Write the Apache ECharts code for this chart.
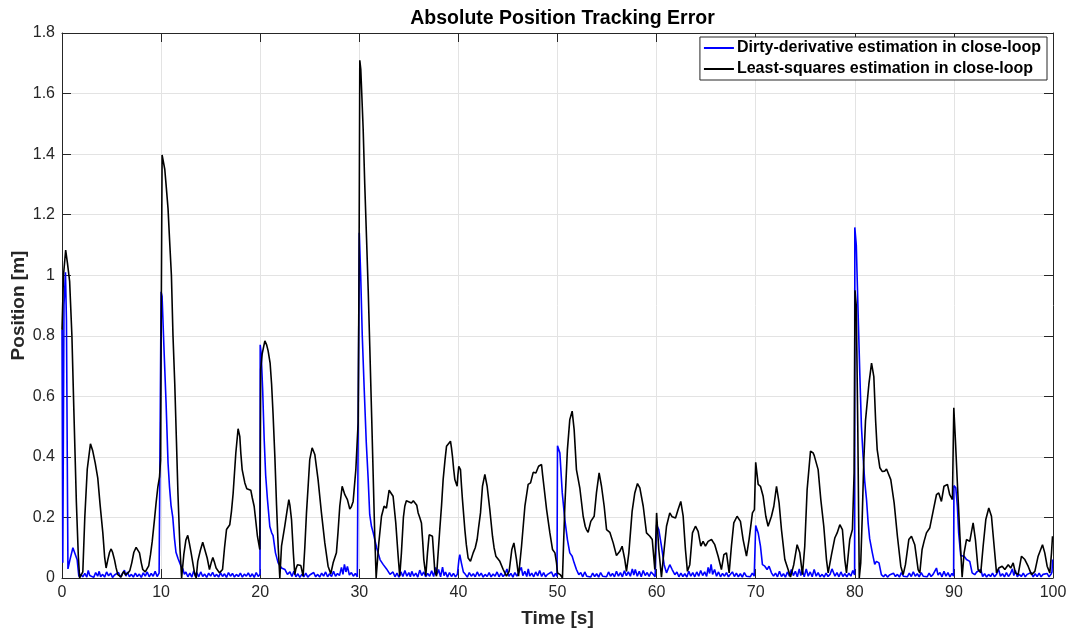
<!DOCTYPE html>
<html>
<head>
<meta charset="utf-8">
<title>Absolute Position Tracking Error</title>
<script src="https://cdn.jsdelivr.net/npm/echarts@6/dist/echarts.min.js"></script>
<style>
  html, body { margin: 0; padding: 0; background: #fff; }
  #chart { width: 1073px; height: 634px; }
</style>
</head>
<body>
<div id="chart"></div>
<script>
// Tracking error |e(t)| in metres, sampled as [time (s), error (m)] pairs.
const dirtyDerivative = [
  [0,0.82],[0.08,0.05],[0.2,0.9],[0.35,1.01],[0.45,0.85],[0.6,0.03],[0.8,0.06],[1.1,0.1],[1.26,0.105],[1.53,0.06],[1.7,0.005],[1.9,0.012],[2.1,0.004],[2.3,0.015],[2.5,0.003],[2.65,0.025],[2.8,0.008],[3.0,0.014],[3.2,0.002],[3.4,0.018],[3.6,0.006],[3.75,0.022],[3.9,0.004],[4.1,0.012],[4.3,0.003],[4.5,0.02],[4.7,0.007],[4.9,0.016],[5.1,0.002],[5.3,0.01],[5.5,0.004],[5.7,0.018],[5.9,0.003],[6.1,0.014],[6.3,0.026],[6.45,0.006],[6.6,0.02],[6.8,0.004],[7.0,0.012],[7.2,0.003],[7.4,0.016],[7.6,0.005],[7.8,0.013],[8.0,0.002],[8.2,0.017],[8.4,0.006],[8.6,0.02],[8.8,0.004],[9.0,0.015],[9.2,0.006],[9.4,0.022],[9.6,0.005],[9.8,0.016],[9.98,0.01],
  [10.0,0.945],[10.1,0.93],[10.3,0.75],[10.5,0.58],[10.7,0.38],[10.85,0.3],[11.0,0.24],[11.18,0.2],[11.35,0.13],[11.5,0.085],[11.7,0.065],[11.85,0.06],[12.0,0.04],[12.2,0.03],[12.35,0.012],[12.5,0.02],[12.7,0.004],[12.9,0.016],[13.1,0.003],[13.3,0.024],[13.45,0.006],[13.6,0.018],[13.8,0.004],[14.0,0.02],[14.2,0.005],[14.4,0.013],[14.6,0.002],[14.8,0.016],[15.0,0.006],[15.2,0.019],[15.4,0.004],[15.6,0.012],[15.8,0.003],[16.0,0.017],[16.2,0.005],[16.4,0.014],[16.6,0.002],[16.8,0.018],[17.0,0.006],[17.2,0.015],[17.4,0.003],[17.6,0.012],[17.8,0.005],[18.0,0.016],[18.2,0.003],[18.4,0.013],[18.6,0.006],[18.8,0.017],[19.0,0.004],[19.2,0.014],[19.4,0.002],[19.6,0.018],[19.8,0.005],[19.98,0.012],
  [20.0,0.77],[20.1,0.74],[20.25,0.62],[20.4,0.46],[20.55,0.34],[20.73,0.26],[20.97,0.17],[21.15,0.15],[21.3,0.14],[21.54,0.083],[21.81,0.05],[22.15,0.033],[22.5,0.028],[22.75,0.012],[23.0,0.02],[23.2,0.005],[23.4,0.022],[23.6,0.004],[23.8,0.014],[24.0,0.002],[24.2,0.012],[24.4,0.004],[24.6,0.016],[24.8,0.003],[25.0,0.01],[25.2,0.005],[25.4,0.018],[25.6,0.004],[25.8,0.012],[26.0,0.003],[26.2,0.016],[26.4,0.006],[26.6,0.02],[26.8,0.004],[27.0,0.014],[27.2,0.005],[27.4,0.022],[27.6,0.006],[27.8,0.015],[28.0,0.008],[28.2,0.035],[28.35,0.012],[28.5,0.045],[28.65,0.02],[28.8,0.038],[29.0,0.01],[29.2,0.018],[29.4,0.006],[29.6,0.015],[29.8,0.004],[29.98,0.01],
  [30.0,1.14],[30.14,1.0],[30.3,0.8],[30.5,0.62],[30.7,0.45],[30.89,0.33],[31.05,0.21],[31.23,0.17],[31.4,0.15],[31.56,0.127],[31.75,0.1],[31.9,0.083],[32.1,0.06],[32.24,0.055],[32.4,0.045],[32.57,0.04],[32.75,0.03],[32.91,0.035],[33.1,0.012],[33.25,0.008],[33.4,0.02],[33.6,0.004],[33.8,0.016],[34.0,0.003],[34.2,0.02],[34.4,0.005],[34.6,0.025],[34.8,0.006],[35.0,0.018],[35.15,0.004],[35.3,0.022],[35.5,0.006],[35.7,0.016],[35.9,0.003],[36.1,0.026],[36.3,0.008],[36.5,0.02],[36.7,0.004],[36.9,0.015],[37.1,0.006],[37.3,0.024],[37.5,0.005],[37.7,0.035],[37.85,0.012],[38.0,0.028],[38.2,0.004],[38.4,0.036],[38.55,0.008],[38.7,0.02],[38.9,0.003],[39.1,0.018],[39.3,0.005],[39.5,0.015],[39.7,0.004],[39.9,0.012],
  [40.0,0.01],[40.05,0.06],[40.14,0.077],[40.3,0.05],[40.5,0.02],[40.7,0.012],[40.9,0.003],[41.1,0.018],[41.3,0.006],[41.5,0.014],[41.7,0.004],[41.9,0.02],[42.1,0.006],[42.3,0.016],[42.5,0.003],[42.7,0.012],[42.9,0.005],[43.1,0.018],[43.3,0.004],[43.5,0.013],[43.7,0.006],[43.9,0.02],[44.1,0.004],[44.3,0.016],[44.5,0.005],[44.7,0.012],[44.9,0.03],[45.1,0.006],[45.3,0.015],[45.5,0.003],[45.7,0.018],[45.9,0.006],[46.1,0.012],[46.35,0.035],[46.5,0.008],[46.7,0.022],[46.9,0.005],[47.05,0.03],[47.2,0.006],[47.4,0.016],[47.6,0.004],[47.8,0.02],[48.0,0.007],[48.2,0.025],[48.4,0.005],[48.6,0.018],[48.8,0.004],[49.0,0.012],[49.2,0.006],[49.4,0.02],[49.6,0.004],[49.8,0.015],[49.95,0.005],
  [50.0,0.437],[50.24,0.413],[50.48,0.281],[50.74,0.193],[51.0,0.127],[51.24,0.083],[51.48,0.072],[51.68,0.05],[51.91,0.028],[52.15,0.011],[52.35,0.018],[52.55,0.004],[52.75,0.02],[52.95,0.006],[53.15,0.012],[53.35,0.003],[53.55,0.016],[53.75,0.005],[53.95,0.014],[54.15,0.003],[54.35,0.018],[54.55,0.006],[54.75,0.012],[54.95,0.004],[55.15,0.02],[55.35,0.006],[55.55,0.015],[55.75,0.004],[55.95,0.022],[56.15,0.006],[56.35,0.018],[56.55,0.004],[56.75,0.024],[56.95,0.008],[57.15,0.02],[57.35,0.006],[57.55,0.03],[57.7,0.01],[57.85,0.028],[58.05,0.006],[58.25,0.022],[58.45,0.004],[58.65,0.025],[58.85,0.008],[59.05,0.018],[59.25,0.005],[59.45,0.02],[59.65,0.012],[59.85,0.004],[59.98,0.008],
  [60.0,0.176],[60.22,0.16],[60.49,0.105],[60.76,0.044],[61.0,0.017],[61.33,0.044],[61.57,0.028],[61.84,0.011],[62.05,0.02],[62.25,0.004],[62.45,0.016],[62.65,0.005],[62.85,0.014],[63.05,0.003],[63.25,0.022],[63.45,0.006],[63.65,0.018],[63.85,0.004],[64.05,0.02],[64.25,0.006],[64.45,0.025],[64.65,0.008],[64.85,0.02],[65.05,0.005],[65.2,0.035],[65.35,0.015],[65.5,0.045],[65.65,0.012],[65.85,0.028],[66.05,0.006],[66.25,0.02],[66.45,0.004],[66.65,0.015],[66.85,0.006],[67.05,0.018],[67.25,0.004],[67.45,0.012],[67.65,0.02],[67.85,0.005],[68.05,0.016],[68.25,0.004],[68.45,0.014],[68.65,0.003],[68.85,0.018],[69.05,0.006],[69.25,0.012],[69.45,0.004],[69.65,0.016],[69.85,0.006],[69.98,0.01],
  [70.0,0.173],[70.25,0.149],[70.48,0.105],[70.68,0.044],[70.92,0.039],[71.15,0.028],[71.35,0.039],[71.59,0.017],[71.8,0.006],[72.0,0.016],[72.2,0.004],[72.4,0.022],[72.6,0.005],[72.8,0.014],[73.0,0.003],[73.2,0.02],[73.4,0.006],[73.6,0.028],[73.8,0.008],[74.0,0.022],[74.2,0.004],[74.4,0.03],[74.55,0.008],[74.7,0.025],[74.9,0.004],[75.1,0.03],[75.3,0.006],[75.5,0.02],[75.7,0.004],[75.9,0.028],[76.1,0.006],[76.3,0.018],[76.5,0.004],[76.7,0.012],[76.9,0.003],[77.1,0.016],[77.3,0.005],[77.5,0.012],[77.7,0.03],[77.85,0.025],[78.0,0.006],[78.2,0.018],[78.4,0.004],[78.6,0.02],[78.8,0.005],[79.0,0.014],[79.2,0.004],[79.4,0.016],[79.6,0.006],[79.8,0.025],[79.98,0.01],
  [80.0,1.158],[80.15,1.1],[80.33,0.88],[80.5,0.68],[80.67,0.5],[80.84,0.4],[81.0,0.32],[81.18,0.26],[81.35,0.18],[81.5,0.13],[81.77,0.083],[82.01,0.045],[82.18,0.055],[82.44,0.05],[82.68,0.011],[82.9,0.004],[83.1,0.012],[83.3,0.003],[83.5,0.01],[83.7,0.004],[83.9,0.016],[84.1,0.005],[84.3,0.012],[84.5,0.003],[84.7,0.018],[84.9,0.006],[85.1,0.012],[85.3,0.004],[85.5,0.016],[85.7,0.005],[85.9,0.02],[86.1,0.006],[86.3,0.014],[86.5,0.004],[86.7,0.018],[86.9,0.006],[87.1,0.012],[87.3,0.004],[87.5,0.016],[87.7,0.005],[87.9,0.012],[88.1,0.006],[88.24,0.033],[88.4,0.01],[88.6,0.018],[88.8,0.004],[89.0,0.022],[89.2,0.006],[89.4,0.018],[89.6,0.004],[89.8,0.015],[89.97,0.006],
  [90.0,0.305],[90.19,0.298],[90.35,0.237],[90.48,0.149],[90.69,0.074],[91.03,0.072],[91.27,0.061],[91.6,0.055],[91.84,0.017],[92.1,0.011],[92.3,0.02],[92.44,0.022],[92.71,0.028],[92.9,0.005],[93.1,0.014],[93.3,0.003],[93.5,0.012],[93.7,0.005],[93.9,0.016],[94.1,0.004],[94.3,0.012],[94.5,0.03],[94.7,0.006],[94.9,0.014],[95.1,0.004],[95.3,0.018],[95.5,0.005],[95.7,0.014],[95.9,0.03],[96.05,0.008],[96.2,0.025],[96.4,0.004],[96.6,0.012],[96.8,0.005],[97.0,0.016],[97.2,0.004],[97.4,0.012],[97.6,0.006],[97.8,0.018],[98.0,0.004],[98.2,0.014],[98.4,0.005],[98.6,0.016],[98.8,0.004],[99.0,0.012],[99.2,0.006],[99.4,0.015],[99.6,0.004],[99.8,0.012],[99.9,0.02],[99.95,0.061],[100,0.061]
];

const leastSquares = [
  [0,0.82],[0.15,1.0],[0.37,1.083],[0.55,1.04],[0.77,0.98],[1.0,0.80],[1.2,0.55],[1.45,0.25],[1.65,0.07],[1.78,0],
  [2.1,0.02],[2.3,0.2],[2.55,0.36],[2.87,0.443],[3.1,0.42],[3.35,0.38],[3.61,0.33],[3.85,0.24],[4.12,0.149],[4.3,0.07],[4.45,0.033],[4.62,0.06],[4.8,0.085],[4.96,0.096],[5.1,0.085],[5.3,0.06],[5.45,0.035],[5.63,0.011],[5.97,0.003],[6.1,0.015],[6.24,0.022],[6.4,0.01],[6.64,0.016],[6.85,0.025],[7.04,0.05],[7.25,0.085],[7.48,0.101],[7.65,0.095],[7.82,0.083],[8.0,0.05],[8.15,0.028],[8.4,0.02],[8.59,0.019],[8.75,0.04],[8.93,0.077],[9.1,0.12],[9.33,0.193],[9.5,0.25],[9.67,0.30],[9.84,0.334],[9.95,0.39],
  [10.02,0.9],[10.1,1.397],[10.2,1.38],[10.37,1.35],[10.5,1.3],[10.7,1.22],[10.85,1.12],[11.04,1.0],[11.2,0.8],[11.38,0.64],[11.55,0.45],[11.7,0.28],[11.9,0.1],[12.07,0],[12.3,0.08],[12.5,0.125],[12.69,0.141],[12.85,0.115],[13.03,0.083],[13.2,0.088],[13.37,0.017],[13.54,0.0],[13.7,0.055],[13.95,0.09],[14.2,0.118],[14.4,0.095],[14.65,0.066],[14.88,0.028],[15.05,0.05],[15.22,0.068],[15.4,0.05],[15.55,0.033],[15.89,0.017],[16.2,0.028],[16.4,0.1],[16.6,0.16],[16.93,0.176],[17.1,0.22],[17.27,0.28],[17.54,0.413],[17.77,0.493],[17.94,0.468],[18.05,0.41],[18.18,0.358],[18.45,0.314],[18.65,0.295],[18.78,0.292],[19.05,0.29],[19.2,0.265],[19.39,0.237],[19.55,0.19],[19.72,0.138],[19.96,0.094],
  [20.0,0.3],[20.05,0.69],[20.2,0.74],[20.47,0.783],[20.65,0.77],[20.8,0.75],[21.0,0.71],[21.15,0.64],[21.3,0.54],[21.48,0.40],[21.65,0.24],[21.82,0.1],[21.98,0],[22.15,0.105],[22.48,0.171],[22.7,0.22],[22.89,0.259],[23.0,0.24],[23.16,0.193],[23.35,0.08],[23.49,0.011],[23.6,0.03],[23.76,0.044],[23.95,0.045],[24.1,0.041],[24.33,0.006],[24.5,0.1],[24.67,0.215],[24.85,0.31],[25.0,0.391],[25.24,0.43],[25.51,0.408],[25.84,0.325],[26.18,0.215],[26.52,0.116],[26.85,0.039],[27.12,0.014],[27.36,0.05],[27.69,0.083],[27.85,0.15],[28.03,0.237],[28.27,0.303],[28.54,0.275],[28.8,0.259],[29.04,0.228],[29.2,0.235],[29.38,0.253],[29.65,0.358],[29.88,0.512],[29.97,1.0],
  [30.05,1.71],[30.15,1.68],[30.39,1.483],[30.55,1.3],[30.73,1.122],[30.9,0.95],[31.06,0.761],[31.25,0.53],[31.4,0.34],[31.55,0.15],[31.7,0],[31.97,0.116],[32.24,0.204],[32.5,0.237],[32.74,0.231],[33.01,0.29],[33.15,0.285],[33.41,0.27],[33.68,0.182],[33.92,0.072],[34.08,0.006],[34.25,0.083],[34.45,0.2],[34.59,0.237],[34.75,0.255],[34.93,0.261],[35.26,0.248],[35.45,0.255],[35.6,0.257],[35.8,0.24],[35.94,0.215],[36.1,0.2],[36.27,0.182],[36.4,0.12],[36.51,0.061],[36.71,0.008],[36.88,0.083],[37.05,0.143],[37.2,0.145],[37.38,0.138],[37.5,0.08],[37.62,0.022],[37.79,0.006],[37.95,0.08],[38.12,0.16],[38.3,0.24],[38.46,0.325],[38.65,0.39],[38.8,0.435],[39.0,0.44],[39.2,0.452],[39.3,0.43],[39.4,0.402],[39.52,0.36],[39.64,0.325],[39.87,0.303],[39.95,0.34],
  [40.04,0.369],[40.21,0.358],[40.3,0.31],[40.41,0.259],[40.65,0.16],[40.8,0.11],[40.98,0.066],[41.22,0.055],[41.49,0.083],[41.7,0.1],[41.89,0.127],[42.05,0.17],[42.23,0.215],[42.43,0.303],[42.67,0.342],[42.9,0.303],[43.17,0.226],[43.44,0.138],[43.6,0.1],[43.78,0.072],[44.18,0.055],[44.52,0.028],[44.85,0.006],[45.12,0.022],[45.39,0.094],[45.6,0.116],[45.86,0.061],[46.07,0.006],[46.37,0.105],[46.71,0.237],[47.04,0.309],[47.28,0.314],[47.4,0.33],[47.55,0.349],[47.7,0.345],[47.82,0.347],[48.09,0.369],[48.39,0.375],[48.5,0.34],[48.63,0.303],[48.9,0.226],[49.23,0.149],[49.5,0.094],[49.74,0.083],[49.9,0.05],
  [50.0,0.017],[50.3,0.01],[50.5,0.0],[50.6,0.1],[50.74,0.237],[51.0,0.424],[51.24,0.523],[51.48,0.551],[51.68,0.49],[51.91,0.358],[52.25,0.298],[52.59,0.204],[52.8,0.17],[52.92,0.16],[53.09,0.151],[53.36,0.187],[53.7,0.204],[53.93,0.281],[54.2,0.347],[54.44,0.303],[54.71,0.237],[54.95,0.16],[55.28,0.151],[55.62,0.116],[55.95,0.074],[56.29,0.088],[56.52,0.105],[56.79,0.061],[56.96,0.022],[57.2,0.083],[57.53,0.22],[57.8,0.281],[58.07,0.312],[58.31,0.298],[58.65,0.237],[58.98,0.149],[59.32,0.138],[59.56,0.127],[59.82,0.028],
  [60.0,0.215],[60.22,0.094],[60.49,0.003],[60.76,0.094],[61.0,0.171],[61.33,0.215],[61.57,0.202],[61.91,0.198],[62.17,0.226],[62.44,0.253],[62.68,0.204],[62.91,0.094],[63.11,0.022],[63.35,0.044],[63.62,0.149],[63.92,0.171],[64.19,0.154],[64.46,0.105],[64.69,0.121],[64.93,0.105],[65.2,0.121],[65.54,0.127],[65.87,0.11],[66.21,0.072],[66.54,0.028],[66.79,0.077],[67.05,0.083],[67.32,0.017],[67.55,0.105],[67.79,0.182],[68.12,0.204],[68.46,0.187],[68.73,0.127],[69.07,0.072],[69.33,0.127],[69.67,0.215],[69.87,0.226],
  [70.0,0.382],[70.25,0.309],[70.48,0.303],[70.75,0.27],[71.02,0.204],[71.25,0.171],[71.59,0.204],[71.83,0.237],[72.1,0.303],[72.36,0.248],[72.6,0.16],[72.94,0.061],[73.27,0.028],[73.51,0.003],[73.84,0.044],[74.18,0.11],[74.45,0.083],[74.72,0.011],[74.95,0.105],[75.19,0.292],[75.53,0.419],[75.79,0.413],[75.9,0.405],[76.06,0.402],[76.3,0.358],[76.57,0.259],[76.87,0.171],[77.14,0.061],[77.31,0.017],[77.65,0.077],[77.98,0.132],[78.22,0.149],[78.49,0.176],[78.75,0.16],[78.99,0.061],[79.16,0.017],[79.49,0.127],[79.76,0.16],[79.93,0.347],
  [80.02,0.95],[80.15,0.9],[80.3,0.5],[80.45,0.0],[80.6,0.05],[80.75,0.2],[80.9,0.38],[81.08,0.52],[81.42,0.64],[81.69,0.71],[81.92,0.665],[82.1,0.52],[82.26,0.424],[82.53,0.364],[82.76,0.352],[83.03,0.353],[83.2,0.36],[83.37,0.364],[83.63,0.325],[83.97,0.248],[84.3,0.138],[84.64,0.039],[84.88,0.011],[85.11,0.044],[85.45,0.127],[85.72,0.138],[86.05,0.11],[86.39,0.028],[86.56,0.017],[86.79,0.094],[86.99,0.121],[87.23,0.149],[87.56,0.165],[87.9,0.22],[88.24,0.275],[88.47,0.281],[88.74,0.253],[89.0,0.303],[89.35,0.309],[89.58,0.275],[89.85,0.259],
  [89.99,0.562],[90.15,0.457],[90.35,0.314],[90.59,0.149],[90.83,0.003],[91.03,0.083],[91.27,0.127],[91.6,0.121],[91.94,0.182],[92.17,0.127],[92.44,0.028],[92.71,0.017],[92.95,0.105],[93.22,0.193],[93.52,0.231],[93.79,0.204],[94.06,0.105],[94.3,0.017],[94.53,0.033],[94.87,0.039],[95.14,0.028],[95.48,0.044],[95.74,0.033],[95.98,0.05],[96.21,0.017],[96.48,0.011],[96.82,0.072],[97.16,0.061],[97.49,0.039],[97.83,0.011],[98.17,0.022],[98.5,0.072],[98.94,0.11],[99.17,0.083],[99.41,0.039],[99.68,0.017],[99.85,0.083],[99.95,0.138],[100,0.138]
];

const seriesNames = [
  'Dirty-derivative estimation in close-loop',
  'Least-squares estimation in close-loop'
];

const FONT = '"Liberation Sans", Arial, Helvetica, sans-serif';
const AXIS_COLOR = '#262626';
const GRID_COLOR = '#e3e3e3';

// Plot box in pixels
const PLOT = { left: 62, right: 20, top: 33, bottom: 56 };
const PLOT_CENTER_X = PLOT.left + (1073 - PLOT.left - PLOT.right) / 2;

const chart = echarts.init(document.getElementById('chart'), null, { renderer: 'canvas' });

// Shared tick/box styling: ticks point inward on all four sides, like a boxed plot.
function frameAxis(extra) {
  return Object.assign({
    axisLine: { show: true, onZero: false, lineStyle: { color: AXIS_COLOR, width: 1 } },
    axisTick: { show: true, inside: true, length: 9, lineStyle: { color: AXIS_COLOR, width: 1 } },
    splitLine: { show: false },
    axisLabel: { show: false }
  }, extra);
}

const option = {
  animation: false,
  backgroundColor: '#ffffff',
  textStyle: { fontFamily: FONT },
  title: {
    text: 'Absolute Position Tracking Error',
    left: PLOT_CENTER_X,
    textAlign: 'center',
    top: 4,
    textStyle: { fontFamily: FONT, fontSize: 19.5, fontWeight: 'bold', color: '#000' }
  },
  legend: {
    data: seriesNames,
    orient: 'vertical',
    right: 26,
    top: 37,
    icon: 'rect',
    itemWidth: 30,
    itemHeight: 2,
    itemGap: 5,
    padding: [3, 6, 3, 4],
    backgroundColor: '#ffffff',
    borderColor: AXIS_COLOR,
    borderWidth: 1,
    borderRadius: 0,
    textStyle: { fontFamily: FONT, fontSize: 16, fontWeight: 'bold', color: '#000', padding: [0, 0, 0, -2] }
  },
  grid: {
    left: PLOT.left, right: PLOT.right, top: PLOT.top, bottom: PLOT.bottom,
    containLabel: false,
    outerBoundsMode: 'none'
  },
  xAxis: [
    frameAxis({
      type: 'value', min: 0, max: 100, interval: 10, position: 'bottom',
      name: 'Time [s]', nameLocation: 'middle', nameGap: 31,
      nameMoveOverlap: false,
      nameTextStyle: { fontFamily: FONT, fontSize: 19, fontWeight: 'bold', color: '#262626' },
      axisLabel: { show: true, fontFamily: FONT, fontSize: 16, color: '#262626', margin: 7 },
      splitLine: { show: true, lineStyle: { color: GRID_COLOR, width: 1 } }
    }),
    frameAxis({ type: 'value', min: 0, max: 100, interval: 10, position: 'top' })
  ],
  yAxis: [
    frameAxis({
      type: 'value', min: 0, max: 1.8, interval: 0.2, position: 'left',
      name: 'Position [m]', nameLocation: 'middle', nameGap: 34,
      nameMoveOverlap: false,
      nameTextStyle: { fontFamily: FONT, fontSize: 19, fontWeight: 'bold', color: '#262626' },
      axisLabel: { show: true, fontFamily: FONT, fontSize: 16, color: '#262626', margin: 7 },
      splitLine: { show: true, lineStyle: { color: GRID_COLOR, width: 1 } }
    }),
    frameAxis({ type: 'value', min: 0, max: 1.8, interval: 0.2, position: 'right' })
  ],
  series: [
    {
      name: seriesNames[0],
      type: 'line',
      data: dirtyDerivative,
      xAxisIndex: 0, yAxisIndex: 0,
      showSymbol: false,
      color: '#0000ff',
      lineStyle: { color: '#0000ff', width: 1.6 },
      z: 2
    },
    {
      name: seriesNames[1],
      type: 'line',
      data: leastSquares,
      xAxisIndex: 0, yAxisIndex: 0,
      showSymbol: false,
      color: '#000000',
      lineStyle: { color: '#000000', width: 1.6 },
      z: 3
    }
  ]
};

chart.setOption(option);
</script>
</body>
</html>
